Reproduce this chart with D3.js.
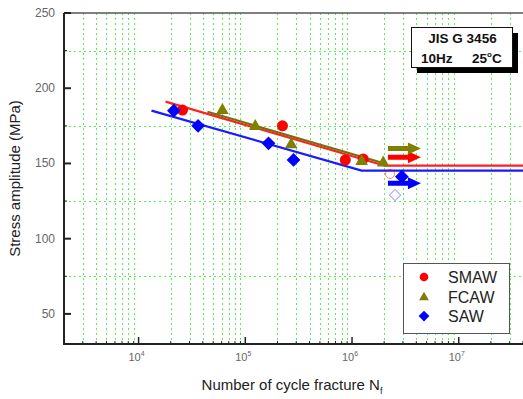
<!DOCTYPE html>
<html><head><meta charset="utf-8">
<script src="https://cdn.jsdelivr.net/npm/d3@7"></script>
<style>body{margin:0;background:#fff;} svg{display:block;font-family:"Liberation Sans",Arial,sans-serif;}</style>
</head><body>
<svg id="c" width="523" height="399"></svg>
<script>
// ---- data ----
const smawN = [25800, 223000, 865000, 1270000];
const smawS = [185.5, 175, 152.3, 153];
const fcawN = [61000, 124000, 269000, 1230000, 1960000];
const fcawS = [186.2, 175.6, 163.4, 152.3, 151.2];
const sawN  = [21400, 36100, 165000, 283000, 2930000];
const sawS  = [185.1, 175, 163.4, 152.3, 141.2];
// run-outs (arrow start)
const runSeries = ["SMAW", "FCAW", "SAW"];
const runN = [2170000, 2170000, 2170000];
const runS = [154.1, 160, 136.8];
// hollow markers
const hollowSeries = ["SMAW", "SAW"];
const hollowN = [2270000, 2530000];
const hollowS = [143, 129];
// fitted S-N lines (start, knee, end)
const fitSmawN = [17900, 2030000, 40000000];
const fitSmawS = [191.1, 148.5, 148.5];
const fitFcawN = [44200, 1950000];
const fitFcawS = [184.4, 150.3];
const fitSawN  = [13200, 1230000, 40000000];
const fitSawS  = [185.1, 145.3, 145.3];
const yTicks = [50, 100, 150, 200, 250];
const yMinor = [75, 125, 175, 225];
const xDecades = [4, 5, 6, 7];
const legendNames = ["SMAW", "FCAW", "SAW"];
const colors = {SMAW: "#ff0000", FCAW: "#808000", SAW: "#0000ff"};
const lineColors = {SMAW: "#ff2020", FCAW: "#7a6a10", SAW: "#1a1aff"};

// ---- layout ----
const L = 64, R = 523, T = 13, B = 344;
const svg = d3.select("#c");
const x = d3.scaleLog().domain([2000, 4e7]).range([L, R]);
const y = d3.scaleLinear().domain([30, 250]).range([B, T]);

const xMinor = [];
for (let e = 3; e <= 7; e++) for (let m = 2; m <= 9; m++) { const v = m * Math.pow(10, e); if (v >= 2000 && v <= 4e7) xMinor.push(v); }

// grid
const grid = svg.append("g").attr("stroke", "#55ee55").attr("stroke-width", 1).attr("stroke-dasharray", "2,3");
grid.selectAll("line.v").data(xMinor).join("line").attr("class","v")
  .attr("x1", d => Math.round(x(d)) + 0.5).attr("x2", d => Math.round(x(d)) + 0.5).attr("y1", T).attr("y2", B);
grid.selectAll("line.h").data(yMinor).join("line").attr("class","h")
  .attr("y1", d => Math.round(y(d)) + 0.5).attr("y2", d => Math.round(y(d)) + 0.5).attr("x1", L).attr("x2", R);

// axes
const ax = svg.append("g").attr("stroke", "#222");
ax.append("line").attr("x1", L).attr("x2", L).attr("y1", T).attr("y2", B).attr("stroke-width", 2);
ax.append("line").attr("x1", L - 1).attr("x2", R).attr("y1", B).attr("y2", B).attr("stroke-width", 2);
ax.append("line").attr("x1", L).attr("x2", R).attr("y1", T).attr("y2", T).attr("stroke-width", 1.5).attr("stroke", "#555");
ax.selectAll("line.yt").data(yTicks).join("line").attr("class","yt")
  .attr("x1", L).attr("x2", L + 7).attr("y1", d => y(d)).attr("y2", d => y(d)).attr("stroke-width", 2);
ax.selectAll("line.yt2").data(yMinor).join("line").attr("class","yt2")
  .attr("x1", L).attr("x2", L + 3).attr("y1", d => y(d)).attr("y2", d => y(d)).attr("stroke-width", 1);
ax.selectAll("line.xt").data(xDecades).join("line").attr("class","xt")
  .attr("x1", d => x(Math.pow(10, d))).attr("x2", d => x(Math.pow(10, d))).attr("y1", B).attr("y2", B - 7).attr("stroke-width", 1.5);
ax.selectAll("line.xt2").data(xMinor).join("line").attr("class","xt2")
  .attr("x1", d => x(d)).attr("x2", d => x(d)).attr("y1", B).attr("y2", B - 3).attr("stroke-width", 1);

// tick labels
svg.selectAll("text.yl").data(yTicks).join("text").attr("class","yl")
  .attr("x", L - 9).attr("y", d => y(d) + 4).attr("text-anchor", "end")
  .attr("font-size", 12).attr("fill", "#666").text(d => d);
const xl = svg.selectAll("text.xl").data(xDecades).join("text").attr("class","xl")
  .attr("x", d => x(Math.pow(10, d)) - 2).attr("y", 361).attr("text-anchor", "middle")
  .attr("font-size", 11).attr("fill", "#666");
xl.append("tspan").text("10");
xl.append("tspan").attr("font-size", 7).attr("dy", -5).text(d => d);

// axis titles
svg.append("text").attr("transform", `translate(20,${(T + B) / 2}) rotate(-90)`)
  .attr("text-anchor", "middle").attr("font-size", 15).attr("fill", "#222").text("Stress amplitude (MPa)");
const xt = svg.append("text").attr("x", 292).attr("y", 390).attr("text-anchor", "middle")
  .attr("font-size", 15).attr("fill", "#222");
xt.append("tspan").text("Number of cycle fracture N");
xt.append("tspan").attr("font-size", 9).attr("dy", 4).text("f");

svg.append("clipPath").attr("id", "pc").append("rect").attr("x", L).attr("y", T).attr("width", R - L).attr("height", B - T);
const plot = svg.append("g").attr("clip-path", "url(#pc)");

// fit lines
const ln = d3.line().x(d => x(d[0])).y(d => y(d[1]));
[["SAW", d3.zip(fitSawN, fitSawS)], ["SMAW", d3.zip(fitSmawN, fitSmawS)], ["FCAW", d3.zip(fitFcawN, fitFcawS)]]
  .forEach(([s, pts]) => plot.append("path").attr("d", ln(pts)).attr("fill", "none")
    .attr("stroke", lineColors[s]).attr("stroke-width", 2.2));

// symbols
function shape(s, r) {
  if (s === "SMAW") return d3.symbol().type(d3.symbolCircle).size(Math.PI * r * r)();
  if (s === "FCAW") return `M0,${-r * 1.1} L${r * 1.15},${r * 0.9} L${-r * 1.15},${r * 0.9} Z`;
  return `M0,${-r * 1.25} L${r * 1.25},0 L0,${r * 1.25} L${-r * 1.25},0 Z`;
}
const drawPts = (s, N, S) => plot.selectAll(null).data(d3.zip(N, S)).join("path")
  .attr("transform", d => `translate(${x(d[0])},${y(d[1])})`)
  .attr("d", shape(s, 5.5)).attr("fill", colors[s]);

plot.selectAll("path.hol").data(d3.zip(hollowSeries, hollowN, hollowS)).join("path").attr("class","hol")
  .attr("transform", d => `translate(${x(d[1])},${y(d[2])})`)
  .attr("d", d => shape(d[0], 4.5)).attr("fill", "none")
  .attr("stroke", d => colors[d[0]]).attr("stroke-opacity", 0.5).attr("stroke-width", 1);

drawPts("SMAW", smawN, smawS);
drawPts("FCAW", fcawN, fcawS);
drawPts("SAW", sawN, sawS);

// run-out arrows
const arrow = "M0,-2.5 L20,-2.5 L20,-6 L33,0 L20,6 L20,2.5 L0,2.5 Z";
plot.selectAll("path.run").data(d3.zip(runSeries, runN, runS)).join("path").attr("class","run")
  .attr("transform", d => `translate(${x(d[1])},${y(d[2])})`)
  .attr("d", arrow).attr("fill", d => colors[d[0]]);

// info box
const bx = 411, by = 27, bw = 101, bh = 40;
svg.append("rect").attr("x", bx + 6).attr("y", by + 6).attr("width", bw).attr("height", bh).attr("fill", "#000");
svg.append("rect").attr("x", bx + 0.5).attr("y", by + 0.5).attr("width", bw).attr("height", bh).attr("fill", "#fff").attr("stroke", "#111");
svg.append("text").attr("x", bx + bw / 2 + 1).attr("y", by + 16).attr("text-anchor", "middle")
  .attr("font-size", 13.5).attr("font-weight", "bold").attr("fill", "#111").text("JIS G 3456");
svg.append("text").attr("x", bx + 10).attr("y", by + 36)
  .attr("font-size", 13.5).attr("font-weight", "bold").attr("fill", "#111").text("10Hz");
const tc = svg.append("text").attr("x", bx + 61).attr("y", by + 36)
  .attr("font-size", 13.5).attr("font-weight", "bold").attr("fill", "#111");
tc.append("tspan").text("25");
tc.append("tspan").attr("font-size", 8).attr("dy", -6).text("o");
tc.append("tspan").attr("dy", 6).text("C");

// legend
const lx = 403, ly = 263, lw = 106, lh = 70;
svg.append("rect").attr("x", lx + 0.5).attr("y", ly + 0.5).attr("width", lw).attr("height", lh).attr("fill", "#fff").attr("stroke", "#555");
legendNames.forEach((s, i) => {
  const yy = ly + 14 + i * 19.5;
  svg.append("path").attr("transform", `translate(${lx + 21},${yy})`)
    .attr("d", shape(s, 4.3)).attr("fill", colors[s]);
  svg.append("text").attr("x", lx + 45).attr("y", yy + 6).attr("font-size", 16).attr("fill", "#222").text(s);
});
</script>
</body></html>
